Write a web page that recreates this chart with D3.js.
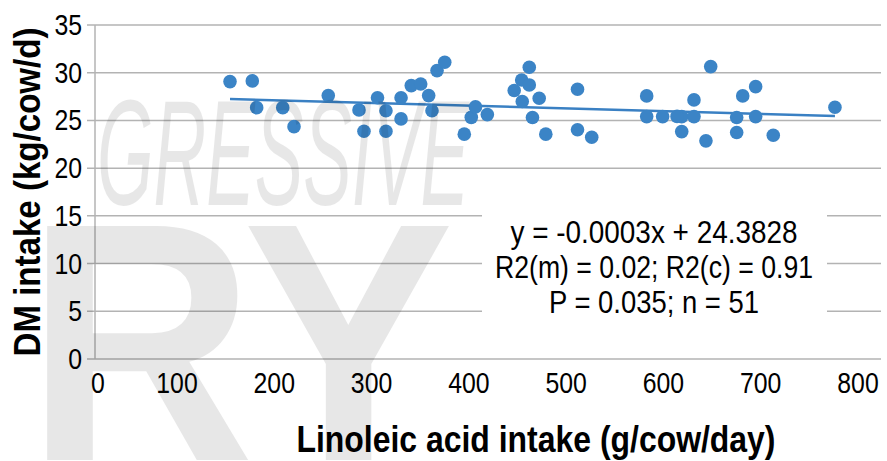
<!DOCTYPE html>
<html>
	<head>
		<meta charset="utf-8">
		<title>DM intake vs linoleic acid intake</title>
		<style type="text/css">
			body { margin: 0; background: #fff; }
			text { font-family: "Liberation Sans", Arial, sans-serif; }
			.grid line { stroke: #b3b3b3; stroke-width: 1.5; }
			.dot { fill: #3b84c6; }
			.trend { fill: none; stroke: #3a80c3; stroke-width: 2.5; }
			.tick-label { font-size: 29px; fill: #000; }
			.title { font-size: 37px; font-weight: bold; fill: #000; }
			.note { font-size: 31px; fill: #000; }
			.mark { fill: #000; opacity: 0.09; }
		</style>
		<script src="https://d3js.org/d3.v7.min.js"></script>
	</head>
	<body>
		<div id="chart"></div>

		<script>
			// data
			var linoleic = [154.5, 177.4, 181.9, 208.7, 220.3, 255.5, 287.1, 292.2, 306.1, 314.8,
				314.8, 330.3, 330.3, 340.8, 350.5, 358.7, 362.1, 367.3, 375.2, 395.3,
				402.5, 406.8, 419.0, 446.6, 454.3, 462.1, 462.1, 454.9, 472.3, 465.4,
				479.1, 511.7, 511.7, 526.3, 582.8, 582.8, 599.2, 618.8, 618.8, 631.4,
				631.4, 643.7, 648.6, 675.3, 675.3, 681.5, 694.8, 694.8, 712.9, 776.3, 614.0];
			var dmIntake = [29.07, 29.14, 26.34, 26.34, 24.35, 27.60, 26.10, 23.87, 27.38, 26.02,
				23.87, 27.38, 25.16, 28.65, 28.82, 27.60, 26.02, 30.22, 31.10, 23.56,
				25.32, 26.42, 25.61, 28.14, 29.24, 30.57, 28.72, 26.99, 27.33, 25.30,
				23.56, 28.27, 24.03, 23.24, 27.57, 25.40, 25.40, 25.40, 23.83, 27.15,
				25.40, 22.86, 30.64, 25.30, 23.73, 27.57, 28.54, 25.40, 23.45, 26.38, 25.42];
			var trendX = [154.5, 776.3];
			var trendY = [27.25, 25.47];
			var xTicks = [0, 100, 200, 300, 400, 500, 600, 700, 800];
			var yTicks = [0, 5, 10, 15, 20, 25, 30, 35];
			var noteLines = ["y = -0.0003x + 24.3828", "R2(m) = 0.02; R2(c) = 0.91", "P = 0.035; n = 51"];
			var noteWidths = [287, 318, 210];

			var W = 887, H = 461;
			var plot = {left: 95, right: 881, top: 25, bottom: 359};
			var digitW = 13.8;  // condensed look: squeeze Liberation Sans digits

			var x = d3.scaleLinear().domain([0, 800]).range([79.7, 858]);
			var y = d3.scaleLinear().domain([0, 35]).range([plot.bottom, plot.top]);

			var svg = d3.select("#chart").append("svg")
				.attr("width", W)
				.attr("height", H);

			// horizontal gridlines
			svg.append("g")
				.attr("class", "grid")
				.selectAll("line")
				.data(yTicks)
				.enter().append("line")
				.attr("x1", plot.left - 8)
				.attr("x2", plot.right)
				.attr("y1", function(d) { return y(d); })
				.attr("y2", function(d) { return y(d); });

			// y axis line
			svg.append("line")
				.attr("x1", plot.left).attr("x2", plot.left)
				.attr("y1", plot.top).attr("y2", plot.bottom)
				.attr("stroke", "#b3b3b3").attr("stroke-width", 1.5);

			// y tick labels
			svg.append("g").selectAll("text")
				.data(yTicks)
				.enter().append("text")
				.attr("class", "tick-label")
				.attr("x", plot.left - 13)
				.attr("y", function(d) { return y(d) + 10; })
				.attr("text-anchor", "end")
				.attr("textLength", function(d) { return String(d).length * digitW; })
				.attr("lengthAdjust", "spacingAndGlyphs")
				.text(function(d) { return d; });

			// x tick labels
			svg.append("g").selectAll("text")
				.data(xTicks)
				.enter().append("text")
				.attr("class", "tick-label")
				.attr("x", function(d) { return Math.max(x(d), plot.left + 3); })
				.attr("y", plot.bottom + 34)
				.attr("text-anchor", "middle")
				.attr("textLength", function(d) { return String(d).length * digitW; })
				.attr("lengthAdjust", "spacingAndGlyphs")
				.text(function(d) { return d; });

			// trendline
			var pts = trendX.map(function(v, i) { return [v, trendY[i]]; });
			svg.append("path")
				.datum(pts)
				.attr("class", "trend")
				.attr("d", d3.line()
					.x(function(d) { return x(d[0]); })
					.y(function(d) { return y(d[1]); }));

			// points
			svg.append("g").selectAll("circle")
				.data(linoleic)
				.enter().append("circle")
				.attr("class", "dot")
				.attr("cx", function(d) { return x(d); })
				.attr("cy", function(d, i) { return y(dmIntake[i]); })
				.attr("r", 6.8);

			// watermark
			svg.append("text")
				.attr("class", "mark")
				.attr("x", 97).attr("y", 205)
				.attr("font-size", 150)
				.attr("font-style", "italic")
				.attr("textLength", 372)
				.attr("lengthAdjust", "spacingAndGlyphs")
				.text("GRESSIVE");
			svg.append("text")
				.attr("class", "mark")
				.attr("x", 26).attr("y", 460)
				.attr("font-size", 340)
				.attr("font-weight", "bold")
				.attr("textLength", 428)
				.attr("lengthAdjust", "spacingAndGlyphs")
				.text("RY");

			// equation box
			svg.append("rect")
				.attr("x", 482).attr("y", 207)
				.attr("width", 345).attr("height", 113)
				.attr("fill", "#fff");
			svg.append("g").selectAll("text")
				.data(noteLines)
				.enter().append("text")
				.attr("class", "note")
				.attr("x", 654)
				.attr("y", function(d, i) { return 243 + i * 35; })
				.attr("text-anchor", "middle")
				.attr("textLength", function(d, i) { return noteWidths[i]; })
				.attr("lengthAdjust", "spacingAndGlyphs")
				.text(function(d) { return d; });

			// axis titles
			svg.append("text")
				.attr("class", "title")
				.attr("x", 536).attr("y", 452)
				.attr("text-anchor", "middle")
				.attr("textLength", 479)
				.attr("lengthAdjust", "spacingAndGlyphs")
				.text("Linoleic acid intake (g/cow/day)");
			svg.append("text")
				.attr("class", "title")
				.attr("transform", "translate(40,192) rotate(-90)")
				.attr("text-anchor", "middle")
				.attr("textLength", 329)
				.attr("lengthAdjust", "spacingAndGlyphs")
				.text("DM intake  (kg/cow/d)");
		</script>
	</body>
</html>
